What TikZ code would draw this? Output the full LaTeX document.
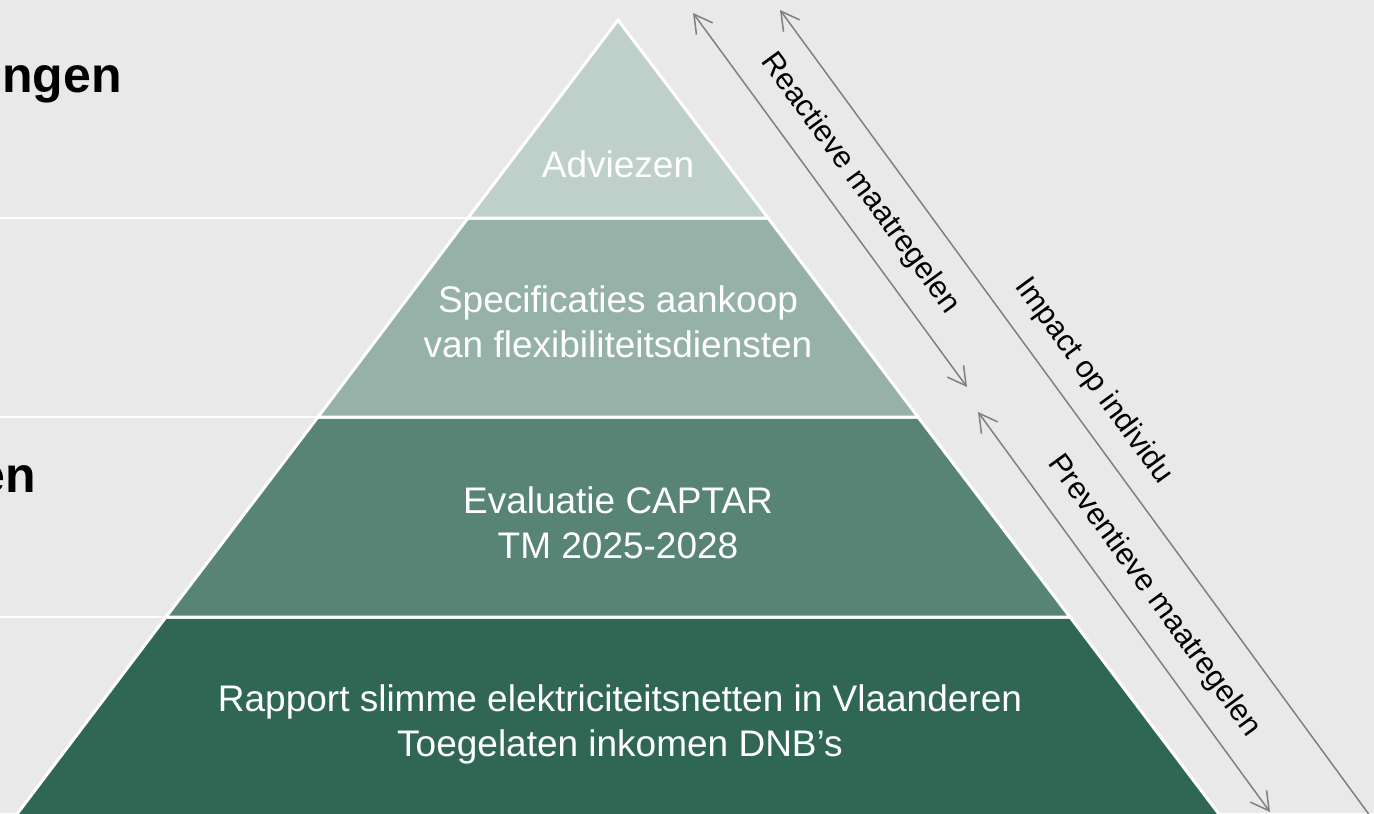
\documentclass[tikz,border=0pt]{standalone}
\usepackage{fontspec}
\setmainfont{Liberation Sans}
\usetikzlibrary{arrows.meta}

\definecolor{bgGrey}{HTML}{E9E9E9}
\definecolor{arrowGrey}{HTML}{808080}
\definecolor{levelA}{HTML}{BFD0CA}
\definecolor{levelB}{HTML}{96B1A7}
\definecolor{levelC}{HTML}{578474}
\definecolor{levelD}{HTML}{2F6754}

\begin{document}
\begin{tikzpicture}[x=0.5pt,y=-0.5pt,
  band/.style={draw=white, line width=1.5pt, line join=miter},
  bandtext/.style={text=white, align=center, font=\fontsize{18.5}{22.5}\selectfont},
  rowline/.style={draw=white, line width=1pt},
  span/.style={draw=arrowGrey, line width=0.75pt,
    {Straight Barb[length=9pt,width=10pt]}-{Straight Barb[length=9pt,width=10pt]}},
  spanlabel/.style={sloped, above=6pt, font=\fontsize{15.3}{18}\selectfont}]

\useasboundingbox (0,0) rectangle (1374,813);
\fill[bgGrey] (0,0) rectangle (1374,813);
\clip (0,0) rectangle (1374,813);

% row lines on the left
\draw[rowline] (0,218) -- (468,218);
\draw[rowline] (0,417) -- (318,417);
\draw[rowline] (0,617) -- (166,617);

% left headings (cut at the edge)
\node[font=\fontsize{25}{30}\selectfont\bfseries, anchor=base east, inner sep=0] (headA) at (122,93) {ngen};
\node[font=\fontsize{25}{30}\selectfont\bfseries, anchor=base east, inner sep=0] (headB) at (36,492) {en};

% pyramid levels
\draw[band, fill=levelD] (166,617) -- (1070,617) -- (1231,830) -- (5,830) -- cycle;
\draw[band, fill=levelC] (318,417) -- (918,417) -- (1070,617) -- (166,617) -- cycle;
\draw[band, fill=levelB] (468,218) -- (768,218) -- (918,417) -- (318,417) -- cycle;
\draw[band, fill=levelA] (618,20) -- (768,218) -- (468,218) -- cycle;

\node[bandtext, anchor=base] (adv) at (618,177) {Adviezen};
\node[bandtext] (spec) at (618,322) {Specificaties aankoop\\van flexibiliteitsdiensten};
\node[bandtext] (eval) at (618,523) {Evaluatie CAPTAR\\TM 2025-2028};
\node[bandtext] (rap) at (620,724) {Rapport slimme elektriciteitsnetten in Vlaanderen\\Toegelaten inkomen DNB’s};

% arrows on the right
\coordinate (reacTop) at (693,13);
\coordinate (reacBot) at (967,387);
\coordinate (impTop) at (780,10);
\coordinate (impBot) at (1384,835);
\coordinate (prevTop) at (978,412);
\coordinate (prevBot) at (1270,812);

\draw[span] (reacTop) -- node[spanlabel, pos=.51] (reac) {Reactieve maatregelen} (reacBot);
\draw[span] (impTop) -- node[spanlabel, pos=.474] (imp) {Impact op individu} (impBot);
\draw[span] (prevTop) -- node[spanlabel, pos=.51] (prev) {Preventieve maatregelen} (prevBot);
\end{tikzpicture}
\end{document}
